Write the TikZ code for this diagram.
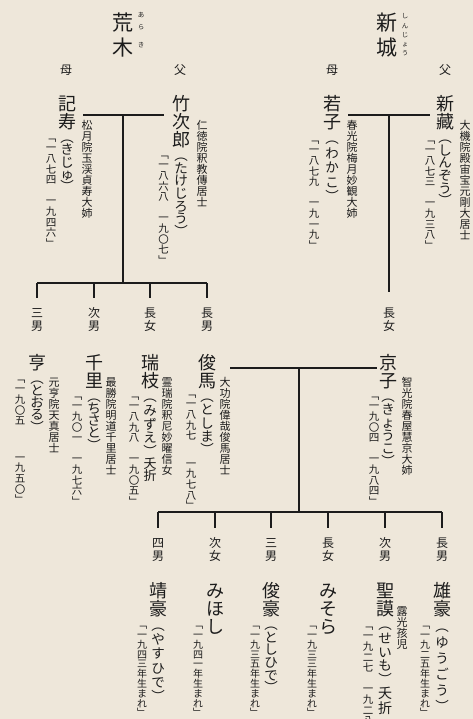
\documentclass[tikz,border=0pt]{standalone}
\usepackage{fontspec}
\setmainfont{Noto Sans CJK JP}
\definecolor{bg}{RGB}{238,231,218}
\definecolor{ink}{RGB}{28,28,28}
\makeatletter
\newdimen\tpitch
\newcommand\tate[3]{{\fontsize{#1}{#1}\selectfont\tpitch=#2pt\relax\tate@loop#3\tate@stop}}
\def\tate@stop{\tate@stop}
\def\tate@loop#1{\ifx#1\tate@stop\else\tate@char{#1}\expandafter\tate@loop\fi}
\def\tate@char#1{\hbox to 24pt{\hss\vrule width0pt height\dimexpr0.38em+0.5\tpitch\relax depth\dimexpr0.5\tpitch-0.38em\relax\smash{#1}\hss}}
\makeatother
\newcommand\col[1]{\vbox{\offinterlineskip#1}}
\newcommand\nm[1]{\tate{18}{18}{#1}}
\newcommand\rd[2]{\tate{13.5}{#1}{#2}}
\newcommand\pn[1]{\col{\tate{11}{11}{#1}}}
\newcommand\lb[1]{\col{\tate{12}{13}{#1}}}
\newcommand\dt[3]{\col{\tate{10.5}{10.6}{﹁#2}\vskip#1pt\tate{10.5}{10.6}{#3﹂}}}
\newcommand\bd[1]{\col{\tate{10}{9.8}{﹁#1年生まれ﹂}}}
\begin{document}
\begin{tikzpicture}[x=1pt,y=-1pt,
  every node/.style={inner sep=0pt,outer sep=0pt,anchor=north,text=ink},
  link/.style={draw=ink,line width=1.1pt}]
\useasboundingbox (0,0) rectangle (473,719);
\fill[bg] (0,0) rectangle (473,719);
\clip (0,0) rectangle (473,719);
% family titles
\node (t1) at (123,10.75) {\col{\tate{21}{24.5}{荒木}}};
\node (t1r) at (141,9.75) {\col{\tate{6.5}{11.5}{あら}\vskip6.25pt\tate{6.5}{11.5}{き}}};
\node (t2) at (387,10.75) {\col{\tate{21}{24.5}{新城}}};
\node (t2r) at (405,11.9) {\col{\tate{6.5}{9.2}{しんじょう}}};
% parents labels
\node (lm1) at (66,63.5) {\lb{母}};
\node (lf1) at (180,63.5) {\lb{父}};
\node (lm2) at (332,63.5) {\lb{母}};
\node (lf2) at (445,63.5) {\lb{父}};
% generation 1
\node (kiju) at (67,95) {\col{\nm{記寿}\rd{12.4}{︵きじゅ︶}}};
\node (kijuP) at (87,120) {\pn{松月院玉渓貞寿大姉}};
\node (kijuD) at (51,132) {\dt{10.6}{一八七四}{一九四六}};
\node (take) at (181,95) {\col{\nm{竹次郎}\rd{12.7}{︵たけじろう︶}}};
\node (takeP) at (202,120) {\pn{仁徳院釈教傳居士}};
\node (takeD) at (163.5,149) {\dt{10.6}{一八六八}{一九〇七}};
\node (waka) at (332,95) {\col{\nm{若子}\rd{14.6}{︵わかこ︶}}};
\node (wakaP) at (352,120) {\pn{春光院梅月妙観大姉}};
\node (wakaD) at (314,134) {\dt{10.6}{一八七九}{一九一九}};
\node (shin) at (445,95) {\col{\nm{新藏}\rd{12.7}{︵しんぞう︶}}};
\node (shinP) at (465,120) {\pn{大機院殿宙宝元剛大居士}};
\node (shinD) at (430,134) {\dt{10.6}{一八七三}{一九三八}};
% generation 1 lines
\coordinate (a1) at (83,115); \coordinate (a2) at (164,115);
\coordinate (a3) at (123,115); \coordinate (a4) at (123,283);
\coordinate (b1) at (348,115); \coordinate (b2) at (430,115);
\coordinate (b3) at (389,115); \coordinate (b4) at (389,292);
\coordinate (h1) at (37,283); \coordinate (h2) at (207,283);
\foreach \i/\x in {1/37,2/94,3/150,4/207}{
  \coordinate (ct\i) at (\x,283); \coordinate (cb\i) at (\x,298);}
\draw[link] (a1) -- (a2);
\draw[link] (a3) -- (a4);
\draw[link] (b1) -- (b2);
\draw[link] (b3) -- (b4);
\draw[link] (h1) -- (h2);
\foreach \i in {1,...,4}{\draw[link] (ct\i) -- (cb\i);}
% generation 2 labels
\node (l21) at (37,306) {\lb{三男}};
\node (l22) at (94,306) {\lb{次男}};
\node (l23) at (150,306) {\lb{長女}};
\node (l24) at (207,306) {\lb{長男}};
\node (l25) at (389,306) {\lb{長女}};
% generation 2
\node (toru) at (37,354) {\col{\nm{亨}\rd{12.2}{︵とおる︶}}};
\node (toruP) at (54,377) {\pn{元亨院天真居士}};
\node (toruD) at (20,373) {\dt{26}{一九〇五}{一九五〇}};
\node (chi) at (94,354) {\col{\nm{千里}\rd{12.2}{︵ちさと︶}}};
\node (chiP) at (111,377) {\pn{最勝院明道千里居士}};
\node (chiD) at (77,390) {\dt{10.6}{一九〇一}{一九七六}};
\node (miz) at (150,354) {\col{\nm{瑞枝}\rd{13.6}{︵みずえ︶}\tate{13}{12}{夭折}}};
\node (mizP) at (167,377) {\pn{霊瑞院釈尼妙曜信女}};
\node (mizD) at (134,390) {\dt{10.6}{一八九八}{一九〇五}};
\node (tosh) at (207,354) {\col{\nm{俊馬}\rd{13.2}{︵としま︶}}};
\node (toshP) at (225,377) {\pn{大功院偉哉俊馬居士}};
\node (toshD) at (191,388) {\dt{17}{一八九七}{一九七八}};
\node (kyo) at (388,354) {\col{\nm{京子}\rd{13}{︵きょうこ︶}}};
\node (kyoP) at (407,377) {\pn{智光院春屋慧京大姉}};
\node (kyoD) at (374,390) {\dt{10.6}{一九〇四}{一九八四}};
% generation 2 lines
\coordinate (m1) at (230,368); \coordinate (m2) at (377,368);
\coordinate (m3) at (299,368); \coordinate (m4) at (299,512);
\coordinate (g1) at (158,512); \coordinate (g2) at (442,512);
\foreach \i/\x in {1/158,2/215,3/271,4/328,5/385,6/442}{
  \coordinate (dt\i) at (\x,512); \coordinate (db\i) at (\x,528);}
\draw[link] (m1) -- (m2);
\draw[link] (m3) -- (m4);
\draw[link] (g1) -- (g2);
\foreach \i in {1,...,6}{\draw[link] (dt\i) -- (db\i);}
% generation 3 labels
\node (l31) at (158,536) {\lb{四男}};
\node (l32) at (215,536) {\lb{次女}};
\node (l33) at (271,536) {\lb{三男}};
\node (l34) at (328,536) {\lb{長女}};
\node (l35) at (385,536) {\lb{次男}};
\node (l36) at (442,536) {\lb{長男}};
% generation 3
\node (yasu) at (158,582) {\col{\nm{靖豪}\rd{14.3}{︵やすひで︶}}};
\node (yasuD) at (142,620) {\bd{一九四三}};
\node (miho) at (215,582) {\col{\nm{みほし}}};
\node (mihoD) at (198,620) {\bd{一九四一}};
\node (toshi) at (271,582) {\col{\nm{俊豪}\rd{12.7}{︵としひで︶}}};
\node (toshiD) at (255,620) {\bd{一九三五}};
\node (miso) at (328,582) {\col{\nm{みそら}}};
\node (misoD) at (312,620) {\bd{一九三三}};
\node (sei) at (385,582) {\col{\nm{聖謨}\rd{13.6}{︵せいも︶}\tate{14}{14.5}{夭折}}};
\node (seiP) at (402,606) {\pn{露光孩児}};
\node (seiD) at (368,620) {\dt{10.6}{一九二七}{一九二八}};
\node (yu) at (442,582) {\col{\nm{雄豪}\rd{16}{︵ゆうごう︶}}};
\node (yuD) at (425,620) {\bd{一九二五}};
\end{tikzpicture}
\end{document}
